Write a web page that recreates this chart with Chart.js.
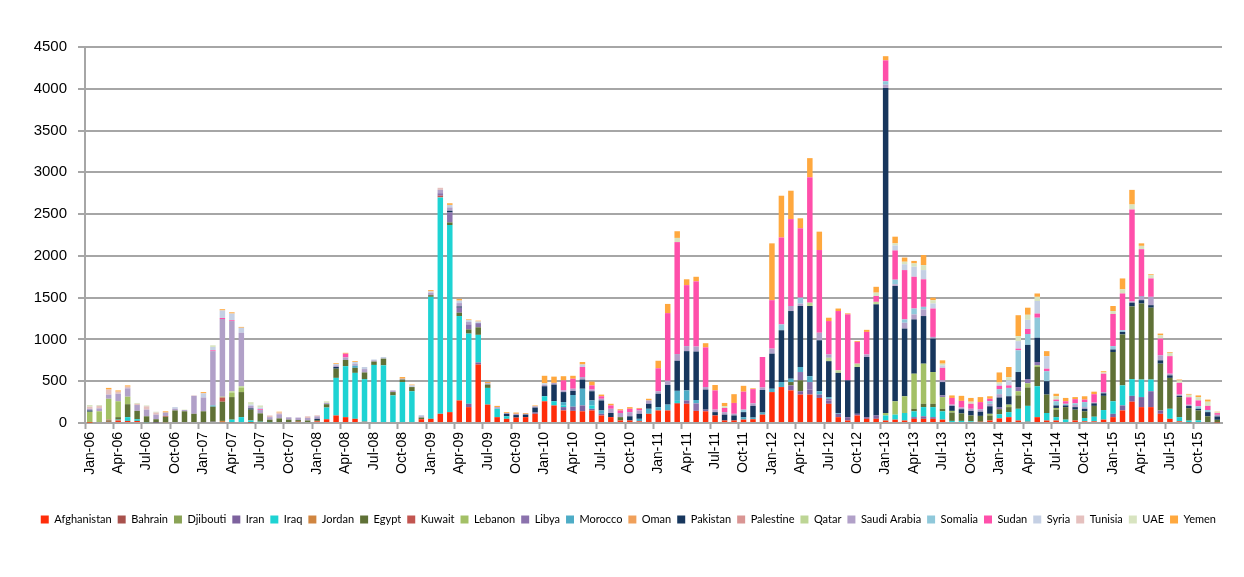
<!DOCTYPE html>
<html lang="en">
<head>
    <meta charset="UTF-8">
    <title>Monthly arrivals by country</title>
    <script src="https://cdn.jsdelivr.net/npm/chart.js@4.4.1/dist/chart.umd.min.js"></script>
    <style>
        body {
            margin: 0;
            background: #ffffff;
        }

        .chart-box {
            width: 1244px;
            height: 577px;
            position: relative;
        }
    </style>
</head>
<body>
    <div class="chart-box">
        <canvas id="arrivalsChart"></canvas>
    </div>

    <script>
        // Tick labels: Jan-06 ... Dec-15
        const monthNames = ['Jan', 'Feb', 'Mar', 'Apr', 'May', 'Jun', 'Jul', 'Aug', 'Sep', 'Oct', 'Nov', 'Dec'];
        const years = ['06', '07', '08', '09', '10', '11', '12', '13', '14', '15'];

        // One row per year, Jan..Dec
        const afghanistan = [
            5, 0, 15, 30, 25, 25, 0, 0, 0, 0, 0, 0,
            0, 0, 0, 10, 0, 5, 0, 0, 0, 0, 15, 0,
            20, 45, 90, 70, 50, 15, 0, 0, 0, 0, 0, 45,
            50, 110, 130, 270, 190, 700, 220, 70, 50, 65, 70, 110,
            260, 210, 150, 145, 140, 150, 90, 70, 30, 30, 20, 110,
            150, 150, 230, 230, 145, 140, 90, 30, 30, 40, 45, 100,
            370, 430, 390, 340, 340, 300, 230, 70, 30, 90, 50, 50,
            30, 40, 30, 50, 50, 50, 40, 0, 0, 10, 15, 30,
            55, 70, 30, 15, 70, 30, 30, 0, 30, 20, 20, 40,
            70, 150, 255, 190, 190, 110, 50, 20, 8, 0, 0, 8
        ];
        const bahrain = [
            0, 0, 0, 0, 0, 0, 0, 0, 0, 0, 0, 0,
            0, 0, 0, 0, 0, 0, 0, 0, 0, 0, 0, 0,
            0, 0, 0, 0, 0, 0, 0, 0, 0, 0, 0, 0,
            0, 0, 0, 0, 0, 0, 0, 0, 0, 0, 0, 0,
            0, 0, 0, 0, 0, 0, 0, 0, 0, 0, 0, 0,
            0, 0, 10, 0, 0, 0, 0, 0, 0, 0, 0, 0,
            0, 0, 0, 0, 0, 0, 0, 0, 0, 0, 0, 0,
            0, 0, 0, 0, 0, 0, 0, 0, 0, 0, 0, 0,
            0, 0, 0, 0, 0, 0, 0, 0, 0, 0, 0, 0,
            0, 0, 0, 0, 0, 0, 0, 0, 0, 0, 0, 0
        ];
        const djibouti = [
            0, 0, 0, 0, 0, 0, 0, 0, 0, 0, 0, 0,
            0, 0, 0, 0, 0, 0, 0, 0, 0, 0, 0, 0,
            0, 0, 0, 0, 0, 0, 0, 0, 0, 0, 0, 0,
            0, 0, 0, 0, 0, 0, 0, 0, 0, 0, 0, 0,
            0, 0, 0, 0, 0, 0, 0, 0, 0, 0, 0, 0,
            0, 0, 0, 0, 0, 0, 0, 0, 0, 0, 0, 0,
            0, 0, 0, 0, 0, 0, 0, 0, 0, 0, 0, 0,
            0, 0, 0, 0, 0, 0, 0, 0, 0, 0, 0, 0,
            0, 0, 0, 0, 0, 0, 0, 0, 0, 0, 0, 0,
            0, 0, 0, 0, 0, 0, 0, 0, 0, 0, 0, 0
        ];
        const iran = [
            0, 0, 0, 0, 0, 0, 0, 5, 0, 0, 0, 0,
            10, 15, 10, 0, 0, 0, 0, 0, 0, 0, 0, 0,
            0, 0, 0, 0, 0, 0, 0, 0, 0, 0, 0, 0,
            0, 0, 0, 0, 40, 25, 0, 0, 0, 0, 0, 15,
            0, 0, 40, 50, 70, 20, 20, 0, 0, 0, 0, 0,
            0, 0, 0, 40, 0, 20, 0, 0, 0, 0, 0, 0,
            0, 0, 60, 40, 60, 40, 40, 40, 40, 20, 20, 40,
            0, 0, 0, 20, 30, 20, 0, 0, 0, 0, 0, 0,
            0, 0, 0, 0, 0, 0, 0, 0, 0, 0, 0, 0,
            40, 60, 70, 120, 190, 40, 0, 0, 0, 0, 0, 0
        ];
        const iraq = [
            0, 0, 0, 10, 45, 20, 10, 0, 0, 0, 0, 0,
            0, 0, 0, 30, 70, 25, 15, 10, 0, 0, 0, 0,
            0, 140, 450, 610, 550, 510, 695, 690, 330, 490, 380, 0,
            1460, 2590, 2240, 1010, 840, 330, 200, 100, 30, 0, 0, 0,
            60, 50, 20, 0, 0, 40, 0, 0, 0, 0, 0, 0,
            0, 0, 25, 0, 0, 0, 0, 0, 0, 0, 0, 0,
            0, 0, 0, 0, 0, 0, 0, 0, 0, 0, 0, 0,
            60, 60, 90, 70, 110, 120, 100, 25, 25, 10, 0, 0,
            50, 60, 140, 190, 370, 90, 40, 40, 0, 40, 55, 115,
            150, 240, 200, 210, 140, 0, 120, 50, 20, 30, 0, 0
        ];
        const jordan = [
            0, 0, 0, 0, 0, 0, 0, 0, 10, 0, 0, 0,
            0, 0, 15, 0, 0, 0, 0, 0, 0, 0, 0, 0,
            0, 0, 0, 0, 0, 0, 0, 0, 0, 0, 0, 0,
            0, 0, 0, 0, 0, 0, 0, 0, 0, 0, 0, 0,
            0, 0, 0, 0, 0, 0, 0, 0, 0, 0, 0, 0,
            0, 0, 0, 0, 0, 0, 0, 0, 0, 0, 0, 0,
            0, 0, 0, 0, 0, 0, 0, 0, 0, 0, 0, 0,
            0, 0, 0, 0, 0, 0, 0, 0, 0, 0, 0, 0,
            0, 0, 0, 0, 0, 0, 0, 0, 0, 0, 0, 0,
            0, 0, 0, 0, 0, 0, 0, 0, 0, 0, 0, 0
        ];
        const egypt = [
            0, 0, 15, 30, 155, 100, 70, 40, 65, 150, 140, 110,
            130, 180, 230, 270, 300, 130, 100, 30, 55, 40, 20, 30,
            15, 40, 110, 75, 60, 80, 40, 80, 40, 30, 50, 20,
            20, 0, 30, 40, 50, 90, 40, 0, 0, 0, 0, 0,
            0, 0, 0, 0, 0, 0, 0, 0, 40, 0, 0, 0,
            0, 0, 0, 0, 0, 0, 0, 0, 0, 0, 0, 0,
            0, 0, 40, 130, 0, 0, 0, 0, 0, 0, 0, 0,
            0, 0, 0, 30, 40, 40, 30, 100, 90, 70, 70, 60,
            60, 60, 160, 220, 230, 220, 90, 150, 130, 80, 130, 170,
            590, 610, 870, 910, 860, 560, 370, 240, 150, 120, 80, 30
        ];
        const kuwait = [
            0, 0, 10, 0, 0, 0, 0, 0, 10, 0, 0, 0,
            0, 0, 50, 0, 0, 0, 0, 0, 0, 0, 0, 0,
            0, 0, 0, 0, 0, 0, 0, 0, 0, 0, 0, 0,
            0, 20, 0, 0, 0, 0, 0, 0, 0, 0, 0, 0,
            0, 0, 0, 0, 0, 0, 0, 0, 0, 0, 0, 0,
            0, 0, 0, 0, 0, 0, 0, 0, 0, 0, 0, 0,
            0, 0, 0, 0, 0, 0, 0, 0, 0, 0, 0, 0,
            0, 0, 0, 0, 0, 0, 0, 0, 0, 0, 0, 0,
            0, 0, 0, 0, 0, 0, 0, 0, 0, 0, 0, 0,
            0, 0, 0, 0, 0, 0, 0, 0, 0, 0, 0, 0
        ];
        const lebanon = [
            130, 140, 250, 190, 90, 0, 0, 0, 0, 0, 0, 0,
            0, 0, 10, 50, 50, 0, 0, 0, 0, 0, 0, 0,
            0, 0, 0, 0, 0, 0, 0, 0, 0, 0, 0, 0,
            0, 0, 0, 0, 0, 0, 0, 0, 0, 0, 0, 0,
            0, 0, 0, 0, 0, 0, 0, 0, 0, 0, 0, 0,
            0, 0, 0, 0, 0, 0, 0, 0, 0, 0, 0, 0,
            0, 0, 0, 0, 0, 0, 0, 0, 0, 0, 0, 0,
            30, 160, 200, 420, 480, 380, 140, 20, 0, 0, 0, 20,
            0, 30, 50, 50, 20, 0, 20, 0, 0, 0, 0, 0,
            0, 0, 0, 0, 0, 0, 0, 0, 0, 0, 0, 0
        ];
        const libya = [
            0, 0, 0, 0, 0, 0, 0, 0, 0, 0, 0, 0,
            0, 0, 0, 0, 0, 0, 0, 0, 0, 0, 0, 0,
            0, 0, 0, 0, 0, 0, 0, 0, 0, 0, 0, 0,
            0, 30, 120, 60, 60, 50, 0, 0, 0, 0, 0, 0,
            0, 0, 0, 0, 0, 0, 0, 0, 0, 0, 0, 0,
            0, 0, 0, 0, 90, 0, 0, 0, 0, 0, 0, 0,
            0, 0, 0, 100, 90, 0, 20, 0, 0, 0, 0, 0,
            0, 0, 0, 0, 0, 0, 20, 0, 0, 0, 0, 0,
            20, 0, 50, 50, 40, 0, 0, 0, 0, 0, 0, 0,
            0, 0, 0, 0, 0, 0, 0, 0, 0, 0, 0, 0
        ];
        const morocco = [
            0, 0, 0, 0, 0, 0, 0, 0, 0, 0, 0, 0,
            0, 15, 0, 0, 0, 0, 0, 0, 0, 0, 0, 0,
            0, 0, 0, 0, 25, 0, 0, 0, 0, 0, 0, 0,
            0, 0, 0, 0, 0, 0, 0, 0, 0, 0, 0, 0,
            0, 0, 40, 140, 200, 60, 40, 0, 0, 0, 30, 60,
            40, 70, 120, 120, 40, 0, 0, 0, 0, 30, 20, 25,
            40, 60, 40, 60, 70, 40, 20, 10, 0, 0, 0, 0,
            0, 0, 0, 0, 0, 0, 0, 0, 0, 0, 0, 0,
            0, 0, 0, 0, 0, 0, 0, 0, 0, 0, 0, 0,
            0, 0, 0, 0, 0, 0, 0, 0, 0, 0, 0, 0
        ];
        const oman = [
            0, 0, 0, 0, 0, 0, 0, 0, 0, 0, 0, 0,
            0, 0, 0, 0, 0, 0, 0, 0, 0, 0, 0, 0,
            0, 0, 0, 0, 0, 0, 0, 0, 0, 0, 0, 0,
            0, 0, 0, 0, 0, 0, 0, 0, 0, 0, 0, 0,
            0, 0, 0, 0, 0, 0, 0, 0, 0, 0, 0, 0,
            0, 0, 0, 0, 0, 0, 0, 0, 0, 0, 0, 0,
            0, 0, 0, 0, 0, 0, 0, 0, 0, 0, 0, 0,
            0, 0, 0, 0, 0, 0, 0, 0, 0, 0, 0, 0,
            0, 0, 0, 0, 0, 0, 0, 0, 0, 0, 0, 0,
            0, 0, 0, 0, 0, 0, 0, 0, 0, 0, 0, 0
        ];
        const pakistan = [
            15, 0, 0, 0, 0, 0, 0, 0, 0, 0, 0, 0,
            0, 0, 0, 0, 0, 15, 0, 0, 0, 0, 0, 0,
            15, 0, 20, 0, 0, 0, 0, 0, 0, 0, 0, 0,
            0, 0, 20, 15, 0, 0, 0, 0, 30, 30, 30, 60,
            120, 200, 120, 50, 110, 110, 120, 50, 0, 50, 60, 60,
            160, 235, 360, 470, 580, 240, 40, 70, 60, 60, 140, 270,
            420, 620, 810, 730, 840, 610, 430, 480, 440, 560, 720, 1330,
            3890, 1380, 810, 650, 570, 400, 160, 60, 50, 55, 50, 90,
            120, 100, 180, 410, 290, 160, 30, 20, 30, 30, 30, 30,
            30, 30, 45, 40, 30, 40, 30, 15, 25, 20, 50, 40
        ];
        const palestine = [
            0, 0, 0, 0, 0, 0, 0, 0, 0, 0, 0, 0,
            0, 0, 0, 0, 0, 0, 0, 0, 0, 0, 0, 0,
            0, 0, 0, 0, 0, 0, 0, 0, 0, 0, 0, 0,
            0, 0, 0, 0, 0, 0, 0, 0, 0, 0, 0, 0,
            0, 0, 0, 0, 0, 0, 0, 0, 0, 0, 0, 0,
            0, 0, 0, 0, 0, 0, 0, 0, 0, 0, 0, 0,
            0, 0, 0, 0, 0, 0, 0, 0, 0, 0, 0, 0,
            0, 0, 0, 0, 0, 0, 0, 0, 0, 0, 0, 0,
            0, 0, 0, 0, 0, 0, 0, 0, 0, 0, 0, 0,
            0, 0, 0, 0, 0, 0, 0, 0, 0, 0, 0, 0
        ];
        const qatar = [
            0, 0, 0, 0, 0, 0, 0, 0, 0, 0, 0, 0,
            0, 0, 0, 20, 20, 0, 0, 0, 0, 0, 0, 0,
            0, 0, 0, 0, 0, 0, 0, 0, 0, 0, 0, 0,
            0, 0, 0, 0, 0, 0, 0, 0, 0, 0, 0, 0,
            0, 0, 0, 0, 0, 0, 0, 0, 0, 0, 0, 0,
            0, 0, 0, 0, 0, 0, 0, 0, 0, 0, 0, 0,
            0, 0, 0, 0, 40, 0, 40, 30, 0, 40, 0, 30,
            0, 0, 0, 0, 0, 0, 0, 0, 0, 0, 0, 0,
            0, 0, 0, 0, 0, 0, 0, 0, 0, 0, 0, 0,
            0, 0, 0, 0, 0, 0, 0, 0, 0, 0, 0, 0
        ];
        const saudiArabia = [
            20, 35, 50, 90, 100, 70, 80, 55, 40, 20, 15, 215,
            165, 650, 930, 840, 640, 30, 40, 30, 50, 28, 30, 30,
            30, 15, 20, 30, 20, 40, 15, 0, 20, 10, 0, 15,
            30, 40, 40, 40, 30, 0, 15, 20, 10, 15, 10, 15,
            15, 20, 20, 25, 30, 20, 20, 50, 50, 50, 40, 40,
            30, 50, 80, 60, 60, 30, 30, 30, 20, 0, 30, 30,
            60, 0, 60, 30, 0, 90, 40, 0, 0, 0, 30, 0,
            40, 20, 70, 60, 80, 20, 20, 15, 20, 25, 30, 30,
            40, 0, 0, 0, 0, 0, 0, 0, 25, 20, 10, 15,
            0, 0, 15, 50, 100, 60, 20, 15, 15, 0, 0, 20
        ];
        const somalia = [
            0, 0, 0, 0, 0, 0, 0, 0, 0, 0, 0, 0,
            0, 0, 0, 0, 0, 0, 0, 0, 0, 0, 0, 0,
            0, 0, 0, 0, 0, 0, 0, 0, 0, 0, 0, 0,
            0, 0, 0, 0, 0, 0, 0, 0, 0, 0, 0, 0,
            0, 0, 0, 0, 0, 0, 0, 0, 0, 0, 0, 0,
            0, 0, 0, 0, 0, 0, 0, 0, 0, 30, 0, 0,
            0, 70, 0, 70, 0, 0, 0, 0, 0, 0, 0, 0,
            40, 55, 40, 70, 30, 0, 0, 0, 0, 0, 0, 30,
            60, 100, 260, 130, 240, 120, 50, 20, 20, 60, 0, 0,
            40, 20, 0, 0, 0, 0, 0, 0, 0, 30, 25, 0
        ];
        const sudan = [
            0, 0, 0, 0, 0, 0, 0, 0, 0, 0, 0, 0,
            0, 10, 12, 10, 0, 0, 10, 0, 0, 0, 0, 0,
            0, 0, 0, 45, 0, 0, 0, 0, 0, 0, 0, 0,
            0, 0, 0, 0, 0, 0, 0, 0, 0, 0, 0, 0,
            0, 0, 120, 120, 120, 50, 30, 40, 30, 40, 20, 0,
            275, 810, 1340, 730, 780, 475, 230, 50, 130, 215, 170, 365,
            580, 1040, 1040, 830, 1500, 990, 400, 710, 790, 260, 270, 70,
            250, 350, 590, 380, 330, 340, 150, 80, 80, 60, 85, 30,
            40, 30, 20, 60, 50, 30, 20, 30, 50, 30, 100, 220,
            385, 440, 1100, 560, 220, 200, 210, 140, 90, 70, 50, 20
        ];
        const syria = [
            0, 0, 0, 0, 0, 0, 0, 0, 0, 20, 0, 0,
            50, 40, 90, 80, 60, 15, 20, 0, 0, 0, 0, 0,
            0, 0, 15, 0, 25, 25, 10, 20, 0, 0, 20, 15,
            15, 0, 30, 30, 20, 20, 0, 0, 0, 0, 0, 0,
            20, 0, 0, 0, 30, 0, 0, 0, 0, 0, 0, 0,
            0, 0, 0, 0, 0, 0, 0, 0, 0, 0, 0, 0,
            0, 0, 0, 0, 0, 0, 0, 0, 0, 0, 0, 0,
            0, 60, 70, 120, 110, 60, 30, 0, 0, 0, 0, 0,
            20, 60, 90, 110, 150, 150, 0, 0, 0, 0, 0, 0,
            0, 0, 0, 0, 0, 0, 0, 0, 0, 0, 0, 0
        ];
        const tunisia = [
            25, 30, 60, 25, 20, 15, 40, 25, 0, 0, 0, 5,
            0, 0, 0, 0, 0, 0, 0, 20, 20, 0, 0, 20,
            12, 0, 0, 0, 0, 0, 0, 0, 0, 0, 0, 0,
            0, 25, 0, 0, 0, 0, 0, 0, 0, 0, 0, 0,
            0, 0, 0, 0, 0, 0, 0, 0, 0, 0, 0, 0,
            0, 0, 0, 0, 0, 0, 0, 0, 0, 0, 0, 0,
            0, 0, 0, 0, 0, 0, 0, 0, 0, 0, 0, 0,
            0, 0, 0, 0, 0, 0, 0, 0, 0, 0, 0, 0,
            0, 0, 0, 0, 0, 0, 0, 0, 0, 0, 0, 0,
            0, 0, 0, 0, 0, 0, 0, 0, 0, 0, 0, 0
        ];
        const uae = [
            20, 10, 0, 0, 0, 10, 10, 10, 0, 0, 5, 0,
            0, 20, 0, 0, 0, 30, 25, 0, 0, 0, 0, 0,
            0, 20, 0, 0, 0, 0, 0, 0, 0, 0, 0, 0,
            0, 0, 0, 0, 0, 0, 0, 0, 0, 0, 0, 0,
            0, 0, 0, 0, 0, 0, 0, 0, 0, 0, 0, 0,
            0, 0, 50, 0, 0, 0, 0, 20, 0, 0, 0, 0,
            0, 0, 0, 0, 0, 0, 0, 0, 0, 0, 0, 40,
            0, 25, 30, 40, 60, 40, 20, 0, 0, 25, 0, 0,
            20, 40, 60, 60, 50, 0, 40, 0, 0, 0, 0, 15,
            35, 50, 60, 40, 40, 40, 40, 30, 30, 40, 50, 10
        ];
        const yemen = [
            0, 0, 20, 15, 15, 0, 0, 0, 15, 0, 0, 0,
            15, 0, 15, 15, 10, 0, 0, 0, 10, 0, 0, 0,
            0, 0, 10, 10, 10, 0, 0, 0, 0, 20, 10, 0,
            15, 0, 20, 20, 10, 10, 15, 15, 10, 15, 10, 10,
            90, 75, 50, 35, 30, 45, 20, 20, 15, 20, 10, 20,
            90, 110, 80, 70, 55, 50, 65, 40, 105, 70, 10, 0,
            680, 500, 340, 120, 230, 220, 40, 30, 12, 10, 25, 70,
            50, 80, 50, 30, 120, 30, 40, 30, 60, 45, 60, 30,
            120, 120, 250, 85, 40, 60, 30, 40, 25, 40, 30, 15,
            60, 130, 175, 30, 10, 20, 10, 10, 10, 20, 25, 7
        ];

        const monthLabels = [];
        years.forEach(y => monthNames.forEach(m => monthLabels.push(m + '-' + y)));

        // legend order = stacking order (bottom to top)
        const countries = [
            ['Afghanistan', afghanistan, '#ff2d0a'],
            ['Bahrain', bahrain, '#a8514c'],
            ['Djibouti', djibouti, '#8aa356'],
            ['Iran', iran, '#7d629e'],
            ['Iraq', iraq, '#1ed3d3'],
            ['Jordan', jordan, '#d08540'],
            ['Egypt', egypt, '#5f7136'],
            ['Kuwait', kuwait, '#c25550'],
            ['Lebanon', lebanon, '#a3c066'],
            ['Libya', libya, '#8b72ad'],
            ['Morocco', morocco, '#4dacc6'],
            ['Oman', oman, '#f0a05a'],
            ['Pakistan', pakistan, '#17365d'],
            ['Palestine', palestine, '#d99593'],
            ['Qatar', qatar, '#bdd595'],
            ['Saudi Arabia', saudiArabia, '#b1a0c8'],
            ['Somalia', somalia, '#8fc8da'],
            ['Sudan', sudan, '#ff4faa'],
            ['Syria', syria, '#c5d0e4'],
            ['Tunisia', tunisia, '#e5c0be'],
            ['UAE', uae, '#d8e4c0'],
            ['Yemen', yemen, '#ffa83e']
        ];

        const gridGrey = '#a6a6a6';

        new Chart(document.getElementById('arrivalsChart'), {
            type: 'bar',
            data: {
                labels: monthLabels,
                datasets: countries.map(c => ({
                    label: c[0],
                    data: c[1],
                    backgroundColor: c[2],
                    borderWidth: 0,
                    barPercentage: 0.58,
                    categoryPercentage: 1
                }))
            },
            options: {
                responsive: true,
                maintainAspectRatio: false,
                animation: false,
                layout: {
                    padding: { top: 47, right: 22, left: 0, bottom: 42 }
                },
                plugins: {
                    tooltip: { enabled: false },
                    legend: {
                        position: 'bottom',
                        align: 'end',
                        labels: {
                            boxWidth: 8,
                            boxHeight: 8,
                            padding: 6,
                            color: '#000',
                            font: { family: 'Lato', size: 11 }
                        }
                    }
                },
                scales: {
                    x: {
                        stacked: true,
                        grid: {
                            drawOnChartArea: false,
                            offset: true,
                            tickLength: 6,
                            tickWidth: 2,
                            tickColor: ctx => (ctx.index % 3 === 0 ? gridGrey : 'rgba(0,0,0,0)')
                        },
                        border: { color: gridGrey, width: 2 },
                        ticks: {
                            autoSkip: false,
                            minRotation: 90,
                            maxRotation: 90,
                            padding: 3,
                            color: '#000',
                            font: { family: 'Liberation Sans', size: 14 },
                            callback: (v, i) => (i % 3 === 0 ? monthLabels[i] : '')
                        },
                        afterFit: scale => { scale.height = 85; }
                    },
                    y: {
                        stacked: true,
                        min: 0,
                        max: 4500,
                        grid: { color: gridGrey, lineWidth: 2, tickLength: 7 },
                        border: { color: gridGrey, width: 2 },
                        ticks: {
                            stepSize: 500,
                            padding: 11,
                            color: '#000',
                            font: { family: 'Liberation Sans', size: 15 },
                            callback: v => String(v)
                        },
                        afterFit: scale => { scale.width = 85; }
                    }
                }
            }
        });
    </script>
</body>
</html>
